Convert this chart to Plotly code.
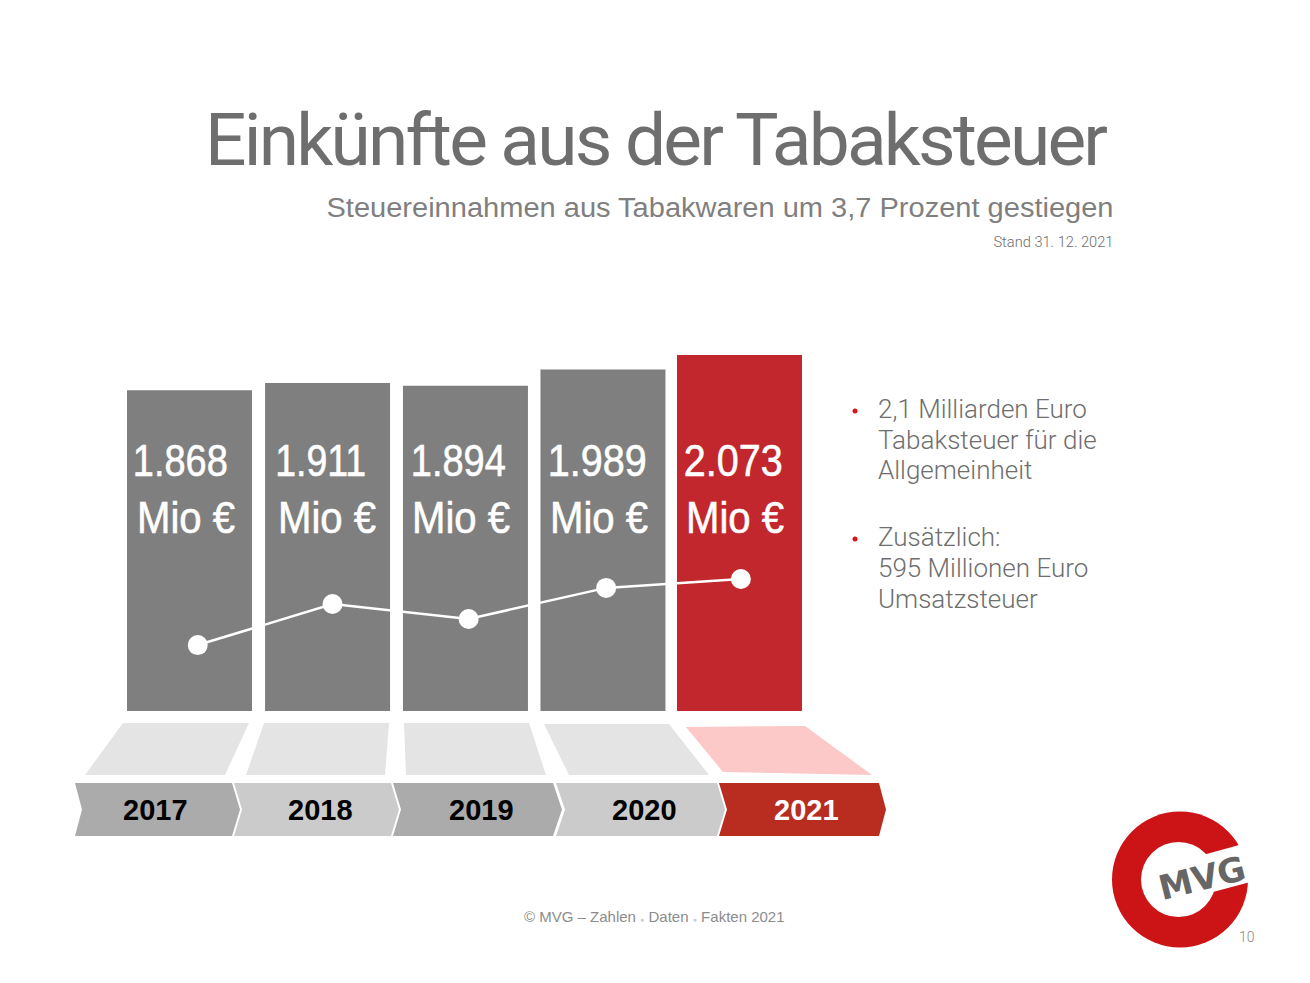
import json
import plotly.graph_objects as go

W = 1310
H = 983

years = [2017, 2018, 2019, 2020, 2021]
tax_values = [1868, 1911, 1894, 1989, 2073]
tax_labels = ["1.868", "1.911", "1.894", "1.989", "2.073"]
bar_colors = ["#7f7f7f", "#7f7f7f", "#7f7f7f", "#7f7f7f", "#c1272d"]

# white line on top of the bars
trend_years = [2017.06, 2018.04, 2019.03, 2020.03, 2021.01]
trend_values = [384, 623, 536, 717, 769]

chevron_colors = ["#ababab", "#cbcbcb", "#ababab", "#cbcbcb", "#b92d20"]
year_colors = ["black", "black", "black", "black", "white"]
bullet_lines = [
    ("2,1 Milliarden Euro", 409),
    ("Tabaksteuer für die", 440),
    ("Allgemeinheit", 470),
    ("Zusätzlich:", 537),
    ("595 Millionen Euro", 568),
    ("Umsatzsteuer", 599),
]

# axis calibration in pixels
PX_PER_YEAR = 137.5
X_2017 = 189.5
BAR_BASE = 711
PX_PER_MIO = 0.1717
bar_nudge = [0, 0.004, 0.007, 0.007, 0]


def px(x):
    return x / W


def py(y):
    return 1 - y / H


def polygon(points, color):
    path = "M " + " L ".join(f"{px(x):.5f},{py(y):.5f}" for x, y in points) + " Z"
    return dict(type="path", xref="paper", yref="paper", path=path,
                fillcolor=color, line_width=0, layer="below")


def circle(cx, cy, r, color):
    return dict(type="circle", xref="paper", yref="paper",
                x0=px(cx - r), x1=px(cx + r), y0=py(cy + r), y1=py(cy - r),
                fillcolor=color, line_width=0, layer="below")


def text(x, y, s, size, color, anchor="center", font="Roboto", angle=0, weight=400):
    return dict(x=px(x), y=py(y), xref="paper", yref="paper", text=s, showarrow=False,
                xanchor=anchor, yanchor="middle", textangle=angle,
                font=dict(family=font, size=size, color=color, weight=weight))


fig = go.Figure()
fig.add_trace(go.Bar(x=[y + n for y, n in zip(years, bar_nudge)], y=tax_values,
                     width=125 / PX_PER_YEAR,
                     marker_color=bar_colors, marker_line_width=0))
fig.add_trace(go.Scatter(x=trend_years, y=trend_values, mode="lines+markers",
                         line=dict(color="white", width=2.5),
                         marker=dict(color="white", size=20)))

shapes = []

trapezoids = [
    [(123, 723), (249, 723), (225, 775), (85, 775)],
    [(264, 723), (389, 723), (385, 775), (246, 775)],
    [(404, 723), (529, 723), (546, 775), (406, 775)],
    [(544, 724), (669, 724), (709, 775), (569, 775)],
    [(686, 727), (805, 726), (872, 775), (723, 772)],
]
for i, pts in enumerate(trapezoids):
    shapes.append(polygon(pts, "#fcc8c8" if i == 4 else "#e4e4e4"))

chevrons = [
    (75, 82, 232, 240),
    (234, 242, 391, 399),
    (393, 401, 553, 562),
    (556, 565, 717, 725),
    (719, 727, 879, 886),
]
for (x0, notch, x1, tip), color in zip(chevrons, chevron_colors):
    shapes.append(polygon([(x0, 783), (x1, 783), (tip, 809.5), (x1, 836),
                           (x0, 836), (notch, 809.5)], color))

# logo
shapes.append(circle(1180, 879.5, 68, "#cc1316"))
shapes.append(circle(1178.5, 879.5, 37.5, "white"))
shapes.append(polygon([(1203, 855), (1250, 842), (1254, 881), (1213, 892)], "white"))

# bullets
shapes.append(circle(855, 411, 2.5, "#dc1414"))
shapes.append(circle(855, 539, 2.5, "#dc1414"))

TITLE = "Einkünfte aus der Tabaksteuer"
SUBTITLE = "Steuereinnahmen aus Tabakwaren um 3,7 Prozent gestiegen"
STAND = "Stand 31. 12. 2021"
DOT = "<span style='font-size:7px;color:#cccccc'>●</span>"

ann = [
    text(656, 140, TITLE, 73, "#6e6e6e"),
    text(719.5, 208, SUBTITLE, 27, "#7f7f7f", font="Liberation Sans"),
    text(1053, 242, STAND, 14, "#6e6e6e", weight=300),
    text(654, 916, f"© MVG – Zahlen {DOT} Daten {DOT} Fakten 2021", 15, "#8c8c8c",
         font="Liberation Sans"),
    text(1247, 937, "10", 14, "#888888", weight=300),
    text(1202, 878, "<b>MVG</b>", 34, "#666666", font="DejaVu Sans", angle=-14),
]

number_x = [180.5, 320.5, 458.5, 597.5, 733.5]
unit_x = [186, 327, 460.5, 598.5, 734.5]
for s, nx, ux in zip(tax_labels, number_x, unit_x):
    ann.append(text(nx, 461, s, 45, "white", font="Liberation Sans"))
    ann.append(text(ux, 517, "Mio €", 45, "white", font="Liberation Sans"))

year_x = [155, 320, 481, 644, 806]
for y, yx, c in zip(years, year_x, year_colors):
    ann.append(text(yx, 810, f"<b>{y}</b>", 29, c, font="Liberation Sans"))

for s, y in bullet_lines:
    ann.append(text(876, y, s, 26, "#6e6e6e", "left", weight=300))

fig.update_layout(
    width=W,
    height=H,
    margin=dict(l=0, r=0, t=0, b=0),
    paper_bgcolor="white",
    plot_bgcolor="white",
    showlegend=False,
    shapes=shapes,
    annotations=ann,
    xaxis=dict(visible=False, domain=[0, 1],
               range=[2017 - X_2017 / PX_PER_YEAR, 2017 + (W - X_2017) / PX_PER_YEAR]),
    yaxis=dict(visible=False, domain=[1 - BAR_BASE / H, 1],
               range=[0, BAR_BASE / PX_PER_MIO]),
)

# the original uses condensed type, squeeze these texts to their measured widths
fit_widths = {TITLE: 903, SUBTITLE: 787, STAND: 120, "Mio €": 98,
              "1.868": 95, "1.911": 91, "1.894": 95, "1.989": 99, "2.073": 99}
post = """
document.body.style.margin = '0';
var fit = %s;
var title = %s;
document.querySelectorAll('.annotation-text').forEach(function (t) {
  var s = t.textContent;
  var w = fit[s];
  if (w) {
    t.setAttribute('textLength', w);
    t.setAttribute('lengthAdjust', s === title ? 'spacing' : 'spacingAndGlyphs');
    if (s === 'Mio €' || /^[0-9]\\.[0-9]{3}$/.test(s)) {
      t.style.stroke = 'white';
      t.style.strokeWidth = '0.6px';
    }
  }
});
""" % (json.dumps(fit_widths, ensure_ascii=False), json.dumps(TITLE, ensure_ascii=False))

fig.write_html("out.html", config={"displayModeBar": False}, post_script=post)
